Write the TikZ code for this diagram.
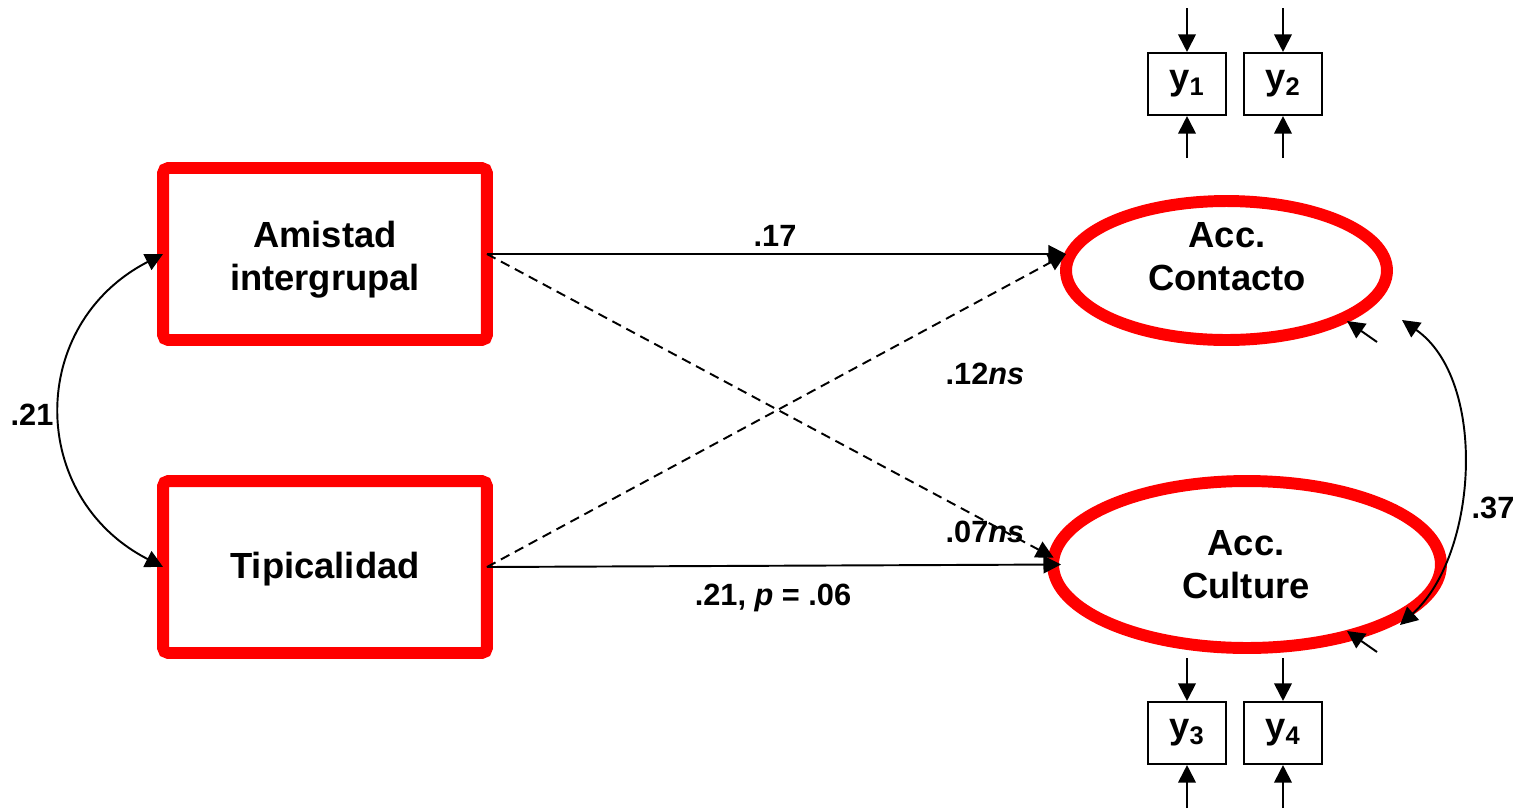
\documentclass[tikz,border=0pt]{standalone}
\usepackage{fontspec}
\setmainfont{Liberation Sans}
\usetikzlibrary{arrows.meta,shapes,positioning}

\begin{document}
\begin{tikzpicture}[x=0.02cm,y=-0.02cm,
  >={Triangle[length=10pt,width=10pt]},
  every node/.style={inner sep=0pt, font=\bfseries\fontsize{20.7}{24.4}\selectfont},
  redbox/.style={draw=red, line width=6.8pt, rounded corners=3pt, outer sep=0pt,
    minimum width=6.48cm, minimum height=3.44cm},
  redoval/.style={draw=red, line width=6.8pt, ellipse, outer sep=0pt},
  obsbox/.style={draw, line width=1.2pt, minimum width=1.56cm, minimum height=1.24cm},
  lbl/.style={font=\bfseries\fontsize{17.5}{20}\selectfont},
  arr/.style={line width=1.1pt, ->},
  dsh/.style={arr, dash pattern=on 5.5pt off 3.5pt}]
\useasboundingbox (0,0) rectangle (1522,809);

% predictors
\node[redbox] (amistad) at (325,254) {};
\node[align=center] (amistadtxt) at (325,260) {Amistad\\intergrupal};
\node[redbox] (tipic) at (325,567) {};
\node (tipictxt) at (325,569) {Tipicalidad};

% outcomes
\node[redoval, minimum width=6.42cm, minimum height=2.78cm] (contacto) at (1226.5,270.5) {};
\node[align=center] (contactotxt) at (1227,257) {Acc.\\Contacto};
\node[redoval, minimum width=7.76cm, minimum height=3.34cm] (culture) at (1247,564.5) {};
\node[align=center] (culturetxt) at (1246,565) {Acc.\\Culture};

% indicators
\node[obsbox] (y1) at (1187,84) {y\textsubscript{1}};
\node[obsbox] (y2) at (1283,84) {y\textsubscript{2}};
\node[obsbox] (y3) at (1187,733) {y\textsubscript{3}};
\node[obsbox] (y4) at (1283,733) {y\textsubscript{4}};

\coordinate (e1) at (1187,8);
\coordinate (e2) at (1283,8);
\coordinate (f1) at (1187,158);
\coordinate (f2) at (1283,158);
\coordinate (f3) at (1187,658);
\coordinate (f4) at (1283,658);
\coordinate (e3) at (1187,808);
\coordinate (e4) at (1283,808);
\draw[arr] (e1) -- (y1);
\draw[arr] (e2) -- (y2);
\draw[arr] (f1) -- (y1);
\draw[arr] (f2) -- (y2);
\draw[arr] (f3) -- (y3);
\draw[arr] (f4) -- (y4);
\draw[arr] (e3) -- (y3);
\draw[arr] (e4) -- (y4);

% disturbances
\coordinate (d1) at (1377,342);
\coordinate (d1tip) at (1347,321);
\coordinate (d2) at (1377,652);
\coordinate (d2tip) at (1347,631);
\draw[arr] (d1) -- (d1tip);
\draw[arr] (d2) -- (d2tip);
\coordinate (c1) at (1402,320);
\coordinate (c2) at (1400,625);
\draw[arr, <->] (c2) .. controls +(78,-70) and +(86,60) .. (c1);
\node[lbl] (l37) at (1493,508) {.37};

% paths
\coordinate (cin) at (contacto.west |- amistad.east);
\draw[arr] (amistad.east) -- (cin);
\draw[dsh] (amistad.east) -- (culture.178);
\draw[dsh] (tipic.east) -- (cin);
\draw[arr] (tipic.east) -- ([xshift=0.16cm]culture.west);
\node[lbl] (l17) at (775,236) {.17};
\node[lbl] (l12) at (985,374) {.12\textit{ns}};
\node[lbl] (l07) at (985,532) {.07\textit{ns}};
\node[lbl] (l21p) at (773,598) {.21, \textit{p} = .06};

% correlation
\draw[arr, <->] (amistad.west) .. controls +(-136,70) and +(-136,-70) .. (tipic.west);
\node[lbl] (l21) at (32,415) {.21};
\end{tikzpicture}
\end{document}
